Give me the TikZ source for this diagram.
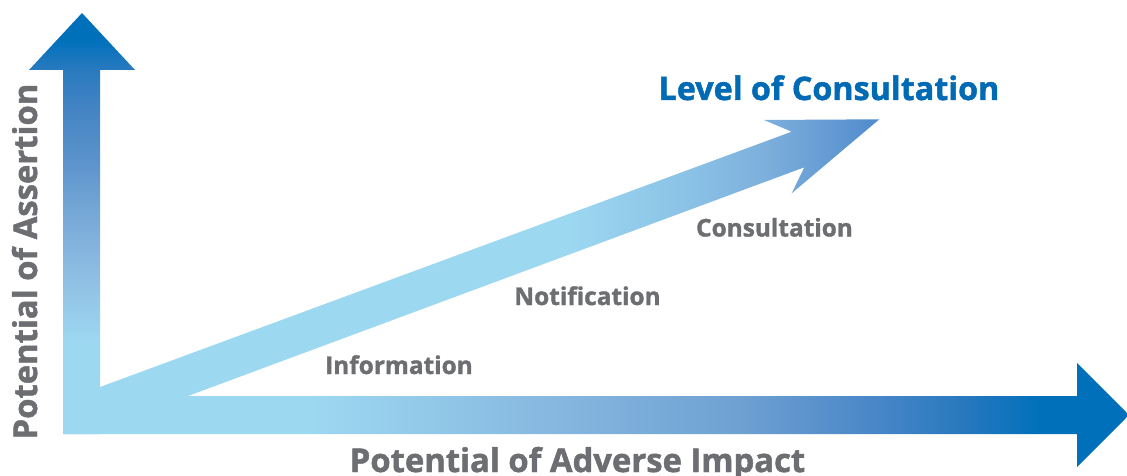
\documentclass[tikz,border=0pt]{standalone}
\usepackage{fontspec}
\setmainfont{Open Sans}[BoldFeatures={FakeBold=1.4}]

% palette
\definecolor{lightb}{RGB}{157,216,241}
\definecolor{darkb}{RGB}{0,112,187}
\definecolor{hA}{RGB}{135,184,224}
\definecolor{hB}{RGB}{110,160,210}
\definecolor{hC}{RGB}{74,135,200}
\definecolor{hD}{RGB}{40,120,190}
\definecolor{vA}{RGB}{151,203,234}
\definecolor{vB}{RGB}{137,184,224}
\definecolor{vC}{RGB}{117,167,214}
\definecolor{vD}{RGB}{91,147,204}
\definecolor{vE}{RGB}{68,132,196}
\definecolor{vF}{RGB}{42,122,191}
\definecolor{dA}{RGB}{134,188,227}
\definecolor{dB}{RGB}{126,176,220}
\definecolor{dC}{RGB}{100,155,212}
\definecolor{dD}{RGB}{79,138,203}
\definecolor{labelgray}{RGB}{109,110,113}
\definecolor{titleblue}{RGB}{0,106,180}

% axis and level gradients (25bp..75bp spans the filled path)
\pgfdeclarehorizontalshading{hgrad}{100bp}{color(0bp)=(lightb); color(36.6bp)=(lightb);
  color(47.8bp)=(hA); color(56.9bp)=(hB); color(62.9bp)=(hC); color(67.2bp)=(hD);
  color(70.9bp)=(darkb); color(100bp)=(darkb)}
\pgfdeclareverticalshading{vgrad}{100bp}{color(0bp)=(lightb); color(35.8bp)=(lightb);
  color(39.7bp)=(vA); color(45.7bp)=(vB); color(51.6bp)=(vC); color(57.5bp)=(vD);
  color(63.5bp)=(vE); color(68.2bp)=(vF); color(71.8bp)=(darkb); color(100bp)=(darkb)}
\pgfdeclarehorizontalshading{dgrad}{100bp}{color(0bp)=(lightb); color(55bp)=(lightb);
  color(64.5bp)=(dA); color(67.5bp)=(dB); color(71.8bp)=(dC); color(75bp)=(dD);
  color(100bp)=(dD)}

\begin{document}
\begin{tikzpicture}[x=1pt,y=-1pt,
  axislabel/.style={text=labelgray, font=\bfseries\fontsize{32.8}{36}\selectfont, inner sep=0pt, anchor=base},
  steplabel/.style={text=labelgray, font=\bfseries\fontsize{24.4}{28}\selectfont, inner sep=0pt, anchor=base},
  titlelabel/.style={text=titleblue, font=\bfseries\fontsize{32.3}{36}\selectfont, inner sep=0pt, anchor=base}]
\useasboundingbox (0,0) rectangle (1127,476);

% horizontal axis arrow
\shade[shading=hgrad] (63,396) -- (1077,396) -- (1077,363) -- (1129,415)
  -- (1077,467) -- (1077,434) -- (63,434) -- cycle;
% vertical axis arrow
\shade[shading=vgrad] (63,434) -- (63,70) -- (29,70) -- (82,13) -- (135,70)
  -- (100,70) -- (100,434) -- cycle;
% rising level arrow
\shade[shading=dgrad] (100,387) -- (791.7,131.7) -- (764,120) -- (879.3,119.3)
  -- (791.7,193.3) -- (804.3,167.3) -- (188,396) -- (100,396) -- cycle;

% labels
\node[axislabel, rotate=90] (yl) at (37,261.5) {Potential of Assertion};
\node[axislabel] (xl) at (577.5,472) {Potential of Adverse Impact};
\node[titlelabel] (title) at (829,100) {Level of Consultation};
\node[steplabel] (info) at (399,374) {Information};
\node[steplabel] (noti) at (587.5,305) {Notification};
\node[steplabel] (cons) at (774.5,236.5) {Consultation};
\end{tikzpicture}
\end{document}
